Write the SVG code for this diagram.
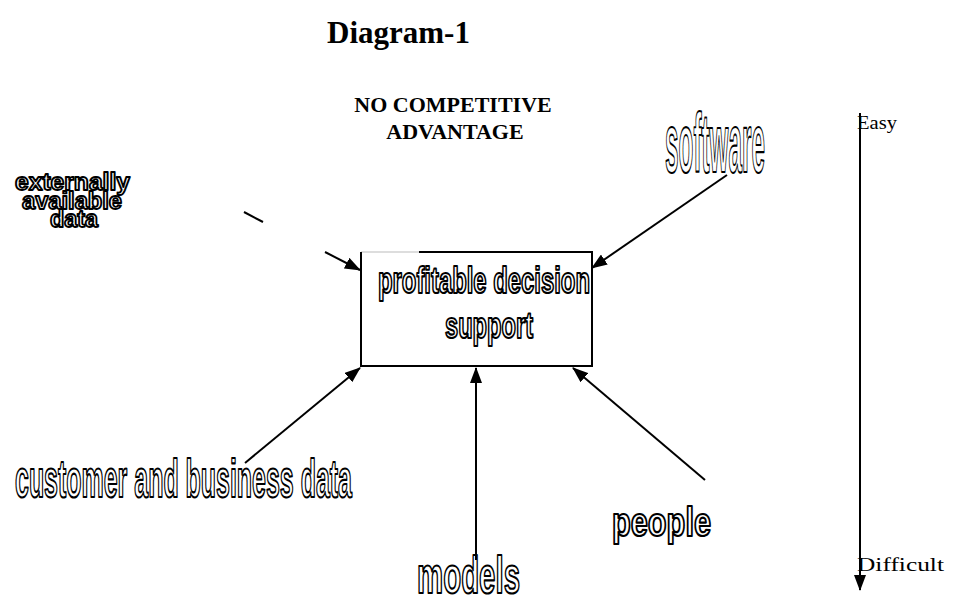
<svg xmlns="http://www.w3.org/2000/svg" width="955" height="596" viewBox="0 0 955 596">
<defs>
<marker id="ah" markerWidth="16" markerHeight="12" refX="15" refY="6" orient="auto" markerUnits="userSpaceOnUse">
<path d="M0,0 L16,6 L0,12 Z" fill="#000"/>
</marker>
<style>
.wa{font-family:"Liberation Sans",Arial,sans-serif;font-weight:bold;fill:#fff;stroke:#000;stroke-width:2.2;stroke-linejoin:round}
.sm{stroke-width:1.8}
.ser{font-family:"Liberation Serif","Times New Roman",serif;fill:#000}
.ln{stroke:#000;stroke-width:2;fill:none}
</style>
</defs>
<rect width="955" height="596" fill="#fff"/>
<g id="title"><text class="ser" x="327" y="43" font-size="31" font-weight="bold">Diagram-1</text></g>
<g id="no-advantage">
<text class="ser" x="453" y="112" font-size="22" font-weight="bold" text-anchor="middle">NO COMPETITIVE</text>
<text class="ser" x="455" y="139" font-size="22" font-weight="bold" text-anchor="middle">ADVANTAGE</text>
</g>
<g id="center">
<path d="M361,252 L419,252" stroke="#bbb" stroke-width="1" fill="none"/>
<path d="M419,252 L592,252 L592,366 L361,366 L361,252" class="ln"/>
<text class="wa" x="378" y="293" font-size="37" textLength="212" lengthAdjust="spacingAndGlyphs">profitable decision</text>
<text class="wa" x="445" y="338" font-size="37" textLength="88" lengthAdjust="spacingAndGlyphs">support</text>
</g>
<g id="external">
<text class="wa sm" x="15" y="190" font-size="23" textLength="115" lengthAdjust="spacingAndGlyphs">externally</text>
<text class="wa sm" x="22" y="209" font-size="23" textLength="100" lengthAdjust="spacingAndGlyphs">available</text>
<text class="wa sm" x="50" y="227" font-size="23" textLength="48" lengthAdjust="spacingAndGlyphs">data</text>
</g>
<g id="software"><text class="wa" x="665" y="172" font-size="84" textLength="100" lengthAdjust="spacingAndGlyphs">software</text></g>
<g id="customer"><text class="wa" x="15" y="497" font-size="53" textLength="337" lengthAdjust="spacingAndGlyphs">customer and business data</text></g>
<g id="people"><text class="wa" x="612" y="536" font-size="40" textLength="99" lengthAdjust="spacingAndGlyphs">people</text></g>
<g id="models"><text class="wa" x="417" y="593" font-size="52" textLength="103" lengthAdjust="spacingAndGlyphs">models</text></g>
<g id="scale">
<text class="ser" x="857" y="129" font-size="19" textLength="40" lengthAdjust="spacingAndGlyphs">Easy</text>
<text class="ser" x="857" y="571" font-size="19" textLength="87" lengthAdjust="spacingAndGlyphs">Difficult</text>
</g>
<g id="connectors">
<path class="ln" d="M244,212 L263,222"/>
<path class="ln" d="M325,252 L360,270" marker-end="url(#ah)"/>
<path class="ln" d="M727,175 L592,268" marker-end="url(#ah)"/>
<path class="ln" d="M245,463 L360,368" marker-end="url(#ah)"/>
<path class="ln" d="M476,560 L476,368" marker-end="url(#ah)"/>
<path class="ln" d="M705,480 L573,368" marker-end="url(#ah)"/>
<path class="ln" d="M860,113 L860,590" marker-end="url(#ah)"/>
</g>
</svg>
